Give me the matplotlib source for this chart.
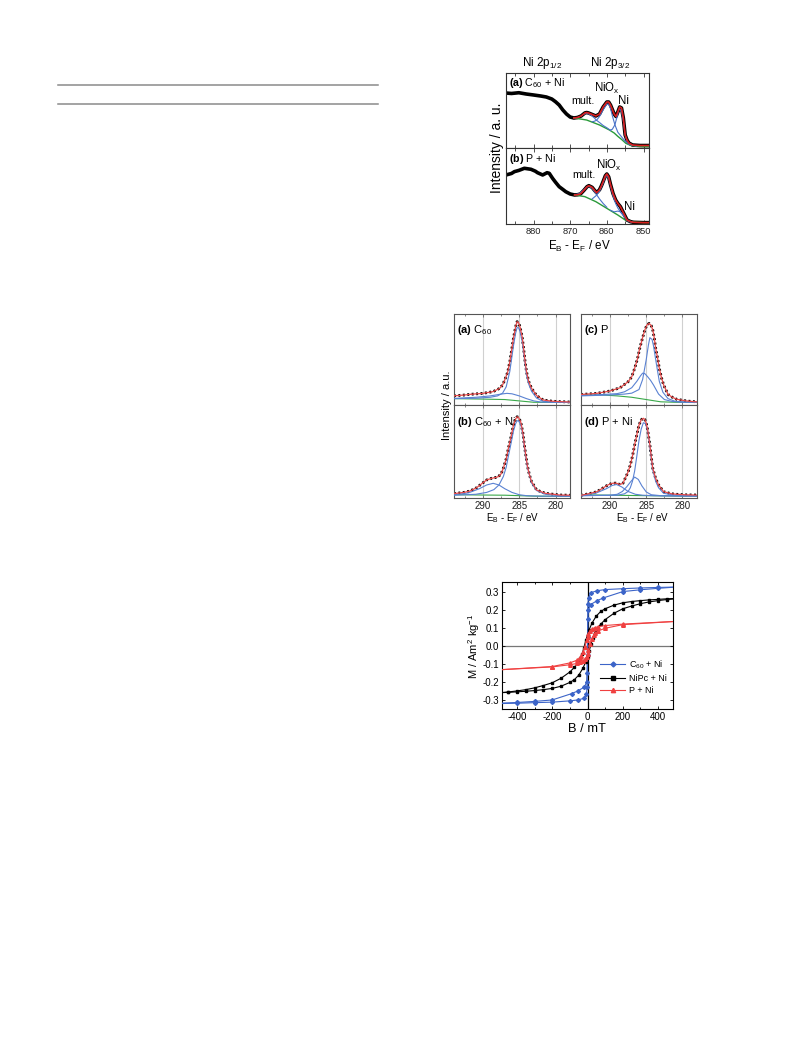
import matplotlib
matplotlib.use("Agg")
import matplotlib.pyplot as plt
from matplotlib.lines import Line2D
from matplotlib.ticker import MultipleLocator, FormatStrFormatter

plt.rcParams['font.family'] = ['Liberation Sans', 'DejaVu Sans']
plt.rcParams['mathtext.fontset'] = 'custom'
plt.rcParams['mathtext.rm'] = 'Liberation Sans'
plt.rcParams['mathtext.it'] = 'Liberation Sans:italic'
plt.rcParams['mathtext.bf'] = 'Liberation Sans:bold'
plt.rcParams['axes.unicode_minus'] = False

# ---------------- Ni 2p data (intensity in a.u., 0-100 per panel) ----------------
ni_a_E = [887.5, 886, 884, 882, 880, 878, 876.5, 875, 874, 873, 872, 871, 870, 869, 868, 867, 866, 865.5, 865,
          864, 863, 862, 861, 860, 859.5, 859, 858, 857.5, 857, 856.5, 856, 855.5, 855, 854.5, 854, 853, 851, 848.5]
ni_a_I = [73.3, 72.7, 73.7, 72, 70.7, 69.3, 68, 65.3, 61.7, 57.3, 50.7, 45.3, 41.3, 40, 40.7, 42.7, 46.7, 47.3, 46.7,
          44.7, 42.7, 45.3, 54.7, 61.3, 61.3, 57.3, 45.3, 42, 48, 54.7, 53.3, 40, 17.3, 10.7, 6.7, 4, 3.3, 3.3]
ni_a_bg_E = [869, 867, 865.5, 864, 862, 860.5, 859.3, 858, 857, 856, 854.8, 853.5, 852, 850, 848.5]
ni_a_bg_I = [40, 38.5, 37.3, 34.5, 30.7, 27, 24, 20, 15.5, 11.5, 6.2, 3.5, 2.5, 1.8, 1.8]
ni_a_mult_E = [869, 868, 867, 866.5, 865.5, 864.5, 863.5, 862.8, 862, 861, 860, 859]
ni_a_mult_I = [40.2, 40.6, 42.5, 44.5, 46.5, 44.5, 40.5, 37, 34, 30, 27, 23.5]
ni_a_niox_E = [864, 863.5, 862.8, 862, 861, 860, 859.5, 859, 858.5, 857.8, 857, 856, 855, 854, 853]
ni_a_niox_I = [35, 35.5, 37, 42, 51, 58.5, 58.5, 53, 43, 31, 21, 15, 9, 5.5, 3.5]
ni_a_ni_E = [859, 858.5, 857.8, 857.3, 856.8, 856.5, 856, 855.5, 855, 854.5, 854, 853, 852]
ni_a_ni_I = [24, 25, 31, 40, 50, 52, 49, 36, 17, 9, 5.5, 3.6, 2.5]

ni_b_E = [887.5, 886, 885.2, 884, 882.5, 880.7, 879.5, 878.9, 877.5, 876.3, 875.7, 874.8, 874, 873, 872, 871.2,
          870, 868.8, 868, 867.2, 866.3, 865.4, 864.9, 864, 863.3, 862.8, 862, 861.5, 861, 860.4, 860, 859.5,
          859, 858.3, 857.6, 857, 856.3, 855.4, 854.5, 853.5, 852.7, 850, 848.5]
ni_b_I = [64.5, 66.5, 68.9, 70.5, 73.3, 72, 69.5, 67.5, 64.5, 67.5, 66.7, 60.1, 55, 49.1, 45.5, 42.5,
          39.5, 38.2, 38.5, 39.5, 44, 49.1, 50.4, 48.2, 44, 41.2, 45, 50, 56, 63.5, 65.8, 62,
          52, 40, 31.6, 27, 22.8, 14, 5.3, 3, 2.2, 1.8, 1.8]
ni_b_bg_E = [868.8, 866, 863, 860, 857, 855, 853, 850, 848.5]
ni_b_bg_I = [38.2, 36, 29.4, 20.6, 11.8, 5.3, 2.6, 1.8, 1.8]
ni_b_mult_E = [868.8, 867.5, 866.5, 865.5, 864.9, 864, 863, 862, 861, 860]
ni_b_mult_I = [38.5, 40, 44, 48.5, 49.5, 47, 40, 33, 27, 22]
ni_b_niox_E = [864, 863, 862.8, 862, 861, 860.4, 860, 859.5, 859, 858.3, 857.6, 857, 856, 855, 854, 853]
ni_b_niox_I = [33, 37, 38, 43, 54, 62.5, 63.5, 60, 50, 37, 27, 21, 14, 8, 4, 2.5]
ni_b_ni_E = [859, 858, 857.5, 857, 856.3, 855.5, 855, 854.5, 854, 853]
ni_b_ni_I = [18, 16, 16.5, 17, 16, 12, 8, 5, 3.2, 2.3]

# ---------------- C 1s data ----------------
c_a_E = [294, 293.7, 292.5, 291.8, 290, 288.6, 287.7, 287.3, 287, 286.6, 286.3, 285.8, 285.5, 285.3, 285.1,
         284.9, 284.6, 284.4, 284.2, 284, 283.7, 283.3, 282.6, 281.7, 280.5, 279.4, 278]
c_a_I = [10, 10.3, 11, 11.7, 12.8, 14.7, 18.3, 22, 27.5, 36, 47.6, 73.3, 86, 91.6, 90.5,
         86, 75, 62.3, 48, 36.6, 26, 18.3, 10.3, 5.5, 4.2, 3.7, 3.3]
c_a_bg_E = [294, 290, 287, 285, 283, 278]
c_a_bg_I = [7, 6.5, 6, 4.5, 3, 2.8]
c_a_sh_E = [294, 291, 289, 287.5, 286.7, 286, 285, 284, 283, 282, 280, 278]
c_a_sh_I = [7.2, 8.5, 10, 12, 12.8, 12.3, 10, 7, 4.5, 3.2, 2.9, 2.8]
c_a_main_E = [294, 291, 289, 288, 287.3, 286.8, 286.3, 285.8, 285.5, 285.3, 285.1, 284.9, 284.6, 284.4, 284,
              283.7, 283.3, 282.6, 281.7, 280, 278]
c_a_main_I = [7, 7.5, 8.5, 10, 13, 20, 37, 65, 79, 85, 85, 81, 70, 58, 33, 23, 15, 7.5, 4, 3, 2.8]

c_b_E = [294, 293.7, 292.5, 291.8, 290.9, 290.4, 289.5, 288.8, 288.3, 287.9, 287.5, 287.2, 286.8, 286.5, 286.1,
         285.8, 285.5, 285.3, 285.1, 284.8, 284.5, 284.3, 283.9, 283.6, 283.3, 282.6, 281.4, 279.4, 278]
c_b_I = [4.8, 5, 6.2, 7.5, 11, 14, 19.4, 21.2, 22, 22.9, 26, 31.9, 42, 53.4, 67,
         78.5, 85, 87.4, 86.5, 82, 70, 57, 35.5, 25, 17.5, 8.6, 5, 3.2, 3]
c_b_bg_E = [294, 290, 287, 285, 283, 278]
c_b_bg_I = [3.5, 3.2, 3, 2.5, 2, 1.8]
c_b_sh_E = [294, 292, 290.5, 289.5, 288.6, 287.8, 287, 286, 285, 284, 282, 278]
c_b_sh_I = [3.5, 5.5, 10, 14, 15.8, 14, 10, 6, 3.5, 2.5, 2, 1.8]
c_b_main_E = [294, 291, 289.5, 288.5, 287.8, 287.2, 286.8, 286.5, 286.1, 285.8, 285.5, 285.3, 285.1, 284.8,
              284.5, 284.3, 283.9, 283.3, 282.6, 281.4, 279.4, 278]
c_b_main_I = [3, 4, 6, 9, 14, 23, 33, 45, 60, 72, 80, 83, 83, 79, 68, 55, 34, 16, 8, 4, 2.5, 2.3]

c_c_E = [294, 293.8, 292.8, 291.8, 290, 288.6, 287.5, 287, 286.6, 286.2, 285.9, 285.5, 285.2, 284.9, 284.6,
         284.3, 284.1, 283.9, 283.7, 283.4, 283.2, 282.9, 282.6, 282, 281.4, 280.8, 279.5, 278.5, 278]
c_c_I = [11.5, 11.7, 12.2, 12.8, 15.4, 19, 25.6, 31, 40.3, 51, 62.3, 74, 82.4, 88, 89.7,
         87, 82.4, 74, 62.3, 50, 40.3, 30, 22, 11.7, 8.5, 6.3, 4.5, 3.7, 3.5]
c_c_bg_E = [294, 291, 289, 287, 285, 283, 281, 278]
c_c_bg_I = [11, 11, 10, 8.5, 6, 3.5, 3, 3]
c_c_main_E = [294, 290, 288, 287, 286, 285.5, 285, 284.7, 284.5, 284.2, 284, 283.6, 283.2, 282.7, 282, 281, 279, 278]
c_c_main_I = [10, 11, 12, 13, 17, 28, 50, 66, 74, 72, 65, 45, 26, 14, 7, 4, 3, 3]
c_c_sec_E = [294, 291, 289, 288, 287, 286.3, 285.8, 285.5, 285.2, 284.8, 284.4, 284, 283.3, 282.5, 281.5, 280, 278]
c_c_sec_I = [10.5, 11.5, 12.5, 14.5, 19, 26, 32, 35, 34.5, 31, 27, 22, 12, 6, 4, 3, 3]

c_d_E = [294, 293.8, 292.8, 291.8, 290.9, 290.3, 289.7, 289.2, 288.6, 288.2, 287.9, 287.5, 287.2, 286.9, 286.6,
         286.3, 286, 285.7, 285.4, 285.2, 285, 284.8, 284.5, 284.3, 284.1, 283.7, 283.3, 282.6, 281.5, 280.8,
         279.5, 278]
c_d_I = [3, 3.2, 4.8, 6.8, 11.1, 14, 15.8, 16, 14.5, 16, 21.2, 28, 35.5, 45, 57,
         68, 78.5, 84, 85.7, 84.5, 80.3, 73, 57, 44, 31.9, 21, 14, 6.8, 4.5, 4,
         3.4, 3.2]
c_d_bg_E = [294, 290, 285, 280, 278]
c_d_bg_I = [3.5, 3, 2.5, 2, 2]
c_d_c1_E = [294, 292, 290.5, 289.7, 289.1, 288.4, 287.5, 286.5, 285.5, 284, 278]
c_d_c1_I = [3, 5, 10, 13.5, 14.5, 12, 7, 4, 3, 2.5, 2]
c_d_c2_E = [294, 290, 289, 288.3, 287.7, 287.2, 286.6, 286.1, 285.6, 285, 284.3, 283, 278]
c_d_c2_I = [2.5, 3, 4, 7, 12, 17, 22.5, 20, 13, 6.5, 3.5, 2.5, 2]
c_d_main_E = [294, 289, 288, 287.5, 287.2, 286.9, 286.6, 286.3, 286, 285.7, 285.4, 285.1, 284.8, 284.5, 284.3,
              284.1, 283.7, 283.3, 282.6, 281, 278]
c_d_main_I = [2.5, 3, 4.5, 7, 11, 18, 29, 45, 62, 74, 81, 80, 72, 55, 42, 30, 18, 11, 5, 3, 2.5]

# ---------------- Hysteresis data (B in mT, M in Am^2/kg) ----------------
blue_desc_B = [500, 400, 300, 200, 100, 55, 17, 6, 2, 0, -2, -5, -17, -55, -90, -200, -300, -400, -500]
blue_desc_M = [0.325, 0.323, 0.320, 0.316, 0.311, 0.305, 0.293, 0.265, 0.23, 0.05, -0.15, -0.20, -0.228, -0.25,
               -0.265, -0.300, -0.308, -0.314, -0.318]
blue_asc_B = [-500, -400, -300, -200, -100, -55, -17, -6, -2, 0, 2, 5, 17, 55, 90, 200, 300, 400, 500]
blue_asc_M = [-0.32, -0.318, -0.315, -0.312, -0.305, -0.30, -0.29, -0.265, -0.23, -0.05, 0.15, 0.20, 0.228, 0.25,
              0.265, 0.300, 0.31, 0.318, 0.325]

black_desc_B = [500, 450, 400, 350, 300, 250, 200, 150, 100, 75, 50, 25, 10, 0, -10, -20, -30, -40, -50, -75,
                -100, -150, -200, -250, -300, -350, -400, -450, -500]
black_desc_M = [0.262, 0.26, 0.257, 0.254, 0.25, 0.245, 0.238, 0.225, 0.205, 0.19, 0.165, 0.125, 0.09, 0.06,
                0.03, -0.01, -0.045, -0.07, -0.09, -0.12, -0.145, -0.18, -0.205, -0.22, -0.233, -0.243, -0.25,
                -0.256, -0.26]
black_asc_B = [-500, -450, -400, -350, -300, -250, -200, -150, -100, -75, -50, -25, -10, 0, 10, 20, 30, 40, 50, 75,
               100, 150, 200, 250, 300, 350, 400, 450, 500]
black_asc_M = [-0.26, -0.258, -0.255, -0.252, -0.248, -0.243, -0.236, -0.224, -0.203, -0.188, -0.163, -0.123,
               -0.088, -0.06, -0.028, 0.01, 0.045, 0.07, 0.09, 0.12, 0.145, 0.18, 0.205, 0.22, 0.233, 0.243, 0.25,
               0.256, 0.26]

red_desc_B = [500, 200, 100, 60, 40, 25, 15, 5, 0, -5, -15, -25, -35, -45, -60, -100, -200, -500]
red_desc_M = [0.135, 0.12, 0.112, 0.105, 0.10, 0.092, 0.083, 0.065, 0.05, 0.03, -0.005, -0.035, -0.055, -0.068,
              -0.08, -0.095, -0.115, -0.133]
red_asc_B = [-500, -200, -100, -60, -40, -25, -15, -5, 0, 5, 15, 25, 35, 45, 60, 100, 200, 500]
red_asc_M = [-0.133, -0.117, -0.105, -0.098, -0.092, -0.085, -0.075, -0.06, -0.045, -0.025, 0.01, 0.04, 0.058,
             0.07, 0.082, 0.097, 0.117, 0.135]

legend_labels = [r"C$_{60}$ + Ni", "NiPc + Ni", "P + Ni"]

# ---------------- figure ----------------
W, H = 785, 1044
fig = plt.figure(figsize=(W / 100, H / 100), dpi=100)


def box(x0, y0, x1, y1):
    return fig.add_axes([x0 / W, 1 - y1 / H, (x1 - x0) / W, (y1 - y0) / H])


def fx(x):
    return x / W


def fy(y):
    return 1 - y / H


# page rules (top-left)
for yy in (85, 104):
    fig.add_artist(Line2D([fx(58), fx(378)], [fy(yy), fy(yy)], color='#8a8a8a', lw=1.1))

RED_D = '#d81e1e'
BLUE_D = '#4a72c8'
GREEN_D = '#2a9a3a'

# ---------------- Ni 2p figure ----------------
ni_axes = [box(506, 73, 649, 148), box(506, 148, 649, 224)]
ni_sets = [
    (ni_a_E, ni_a_I, ni_a_bg_E, ni_a_bg_I,
     [(ni_a_mult_E, ni_a_mult_I), (ni_a_niox_E, ni_a_niox_I), (ni_a_ni_E, ni_a_ni_I)], 869),
    (ni_b_E, ni_b_I, ni_b_bg_E, ni_b_bg_I,
     [(ni_b_mult_E, ni_b_mult_I), (ni_b_niox_E, ni_b_niox_I), (ni_b_ni_E, ni_b_ni_I)], 868.8),
]
for i, (ax, (E, I, bE, bI, comps, fit_start)) in enumerate(zip(ni_axes, ni_sets)):
    ax.plot(E, I, color='black', lw=2.6, solid_joinstyle='round', zorder=2)
    ax.plot(bE, bI, color=GREEN_D, lw=1.0, zorder=3)
    for cE, cI in comps:
        ax.plot(cE, cI, color=BLUE_D, lw=0.8, zorder=3)
    fE = [e for e in E if e <= fit_start]
    fI = [v for e, v in zip(E, I) if e <= fit_start]
    ax.plot(fE, fI, color=RED_D, lw=1.2, zorder=4)
    ax.set_xlim(887.5, 848.5)
    ax.set_ylim(0, 100)
    ax.set_yticks([])
    ax.xaxis.set_major_locator(MultipleLocator(10))
    ax.xaxis.set_minor_locator(MultipleLocator(5))
    ax.tick_params(axis='x', which='both', direction='in', top=True, bottom=True, labelsize=6.7,
                   width=0.6, pad=2, colors='#333333', labelcolor='#222222')
    ax.tick_params(axis='x', which='major', length=3)
    ax.tick_params(axis='x', which='minor', length=2)
    for s in ax.spines.values():
        s.set_linewidth(0.8)
        s.set_color('#333333')
    if i == 0:
        ax.tick_params(labelbottom=False)

ax = ni_axes[0]
ax.text(0.02, 0.87, r"$\mathbf{(a)}$ C$_{60}$ + Ni", transform=ax.transAxes, fontsize=7.7, va='center')
ax.text(866.5, 62, "mult.", fontsize=7.7, ha='center', va='center')
ax.text(860.0, 80, r"NiO$_\mathrm{x}$", fontsize=8.3, ha='center', va='center')
ax.text(855.5, 63, "Ni", fontsize=8.3, ha='center', va='center')
ax = ni_axes[1]
ax.text(0.02, 0.86, r"$\mathbf{(b)}$ P + Ni", transform=ax.transAxes, fontsize=7.7, va='center')
ax.text(866.2, 64, "mult.", fontsize=7.7, ha='center', va='center')
ax.text(859.5, 77, r"NiO$_\mathrm{x}$", fontsize=8.3, ha='center', va='center')
ax.text(853.8, 22, "Ni", fontsize=8.3, ha='center', va='center')

fig.text(fx(542), fy(63), r"Ni 2p$_{1/2}$", fontsize=8.4, ha='center', va='center')
fig.text(fx(610), fy(63), r"Ni 2p$_{3/2}$", fontsize=8.4, ha='center', va='center')
fig.text(fx(497), fy(148), "Intensity / a. u.", fontsize=10, rotation=90, ha='center', va='center')
fig.text(fx(580), fy(246), r"E$_\mathrm{B}$ - E$_\mathrm{F}$ / eV", fontsize=8.4, ha='center', va='center')

# ---------------- C 1s figure ----------------
RED_C = '#e84a4a'
BLUE_C = '#5a82d2'
GREEN_C = '#3aa84a'
c_boxes = [(454, 314, 570, 405), (454, 405, 570, 498), (581, 314, 697, 405), (581, 405, 697, 498)]
c_sets = [
    (c_a_E, c_a_I, c_a_bg_E, c_a_bg_I, [(c_a_sh_E, c_a_sh_I), (c_a_main_E, c_a_main_I)],
     r"$\mathbf{(a)}$ C$_{60}$"),
    (c_b_E, c_b_I, c_b_bg_E, c_b_bg_I, [(c_b_sh_E, c_b_sh_I), (c_b_main_E, c_b_main_I)],
     r"$\mathbf{(b)}$ C$_{60}$ + Ni"),
    (c_c_E, c_c_I, c_c_bg_E, c_c_bg_I, [(c_c_sec_E, c_c_sec_I), (c_c_main_E, c_c_main_I)],
     r"$\mathbf{(c)}$ P"),
    (c_d_E, c_d_I, c_d_bg_E, c_d_bg_I,
     [(c_d_c1_E, c_d_c1_I), (c_d_c2_E, c_d_c2_I), (c_d_main_E, c_d_main_I)],
     r"$\mathbf{(d)}$ P + Ni"),
]
for j, (bx, (E, I, bE, bI, comps, lab)) in enumerate(zip(c_boxes, c_sets)):
    ax = box(*bx)
    for g in (290, 285, 280):
        ax.axvline(g, color='#d0d0d0', lw=0.8, zorder=0)
    ax.plot(E, I, color='black', lw=2.0, ls=(0, (0.7, 0.9)), zorder=2)
    ax.plot(bE, bI, color=GREEN_C, lw=0.8, zorder=3)
    for cE, cI in comps:
        ax.plot(cE, cI, color=BLUE_C, lw=0.8, zorder=3)
    ax.plot(E, I, color=RED_C, lw=0.9, zorder=4)
    ax.set_xlim(294, 278)
    ax.set_ylim(0, 100)
    ax.set_yticks([])
    ax.xaxis.set_major_locator(MultipleLocator(5))
    ax.xaxis.set_minor_locator(MultipleLocator(2.5))
    ax.tick_params(axis='x', which='both', direction='in', top=True, bottom=True, labelsize=7,
                   width=0.5, pad=2.5, colors='#555555', labelcolor='#222222')
    ax.tick_params(axis='x', which='major', length=2.5)
    ax.tick_params(axis='x', which='minor', length=1.5)
    for s in ax.spines.values():
        s.set_linewidth(0.8)
        s.set_color('#555555')
    if j in (0, 2):
        ax.tick_params(labelbottom=False)
    ax.text(0.03, 0.82, lab, transform=ax.transAxes, fontsize=8, va='center')

fig.text(fx(447), fy(405), "Intensity / a.u.", fontsize=8, rotation=90, ha='center', va='center')
fig.text(fx(513), fy(518), r"E$_\mathrm{B}$ - E$_\mathrm{F}$ / eV", fontsize=7, ha='center', va='center')
fig.text(fx(643), fy(518), r"E$_\mathrm{B}$ - E$_\mathrm{F}$ / eV", fontsize=7, ha='center', va='center')

# ---------------- Hysteresis ----------------
ax = box(502, 582, 673, 709)
ax.axhline(0, color='#777777', lw=0.9, zorder=1)
ax.axvline(0, color='black', lw=0.9, zorder=1)
BLUE_H = '#3c64c8'
RED_H = '#f04040'
series = [
    (blue_desc_B, blue_desc_M, blue_asc_B, blue_asc_M, BLUE_H, 'D', 2.0),
    (black_desc_B, black_desc_M, black_asc_B, black_asc_M, 'black', 's', 2.0),
    (red_desc_B, red_desc_M, red_asc_B, red_asc_M, RED_H, '^', 2.6),
]
handles = []
for (dB, dM, aB, aM, col, mk, ms), lab in zip(series, legend_labels):
    ax.plot(dB, dM, color=col, lw=0.8, marker=mk, ms=ms, zorder=3)
    ax.plot(aB, aM, color=col, lw=0.8, marker=mk, ms=ms, zorder=3)
    handles.append(Line2D([], [], color=col, lw=0.8, marker=mk, ms=ms + 0.5, label=lab))
ax.set_xlim(-484, 484)
ax.set_ylim(-0.35, 0.353)
ax.xaxis.set_major_locator(MultipleLocator(200))
ax.xaxis.set_minor_locator(MultipleLocator(100))
ax.yaxis.set_major_locator(MultipleLocator(0.1))
ax.yaxis.set_major_formatter(FormatStrFormatter('%.1f'))
ax.tick_params(which='both', direction='in', top=True, right=True, labelsize=7, width=0.6, pad=2)
ax.tick_params(which='major', length=2.5)
ax.tick_params(which='minor', length=1.5)
for s in ax.spines.values():
    s.set_linewidth(0.8)
ax.legend(handles=handles, loc='lower right', bbox_to_anchor=(1.0, 0.06), frameon=False, fontsize=6.5,
          handlelength=2.8, handletextpad=0.4, labelspacing=0.35, borderpad=0.2)
fig.text(fx(587), fy(729), "B / mT", fontsize=9.3, ha='center', va='center')
fig.text(fx(474), fy(646), r"M / Am$^2$ kg$^{-1}$", fontsize=8, rotation=90, ha='center', va='center')

fig.savefig("out.png", dpi=100)
